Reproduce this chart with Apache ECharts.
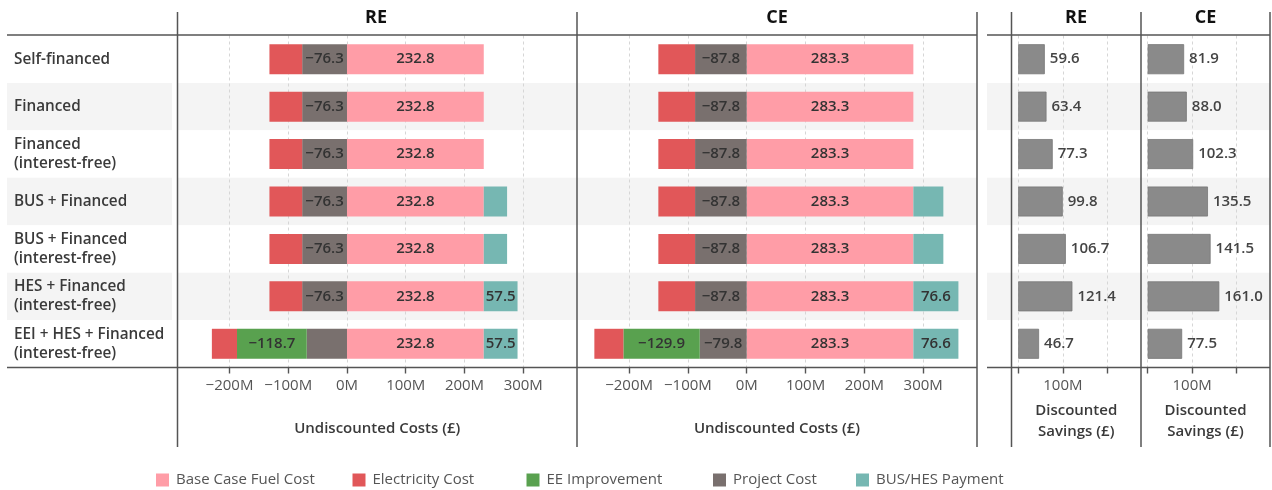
<!DOCTYPE html>
<html><head><meta charset="utf-8">
<script src="https://cdn.jsdelivr.net/npm/echarts@6/dist/echarts.min.js"></script>
<style>html,body{margin:0;padding:0;background:#fff}#c{width:1272px;height:490px}</style>
</head><body><div id="c"></div>
<script>
// ---- data ----
const categories = ['Self-financed', 'Financed', 'Financed\n(interest-free)', 'BUS + Financed',
  'BUS + Financed\n(interest-free)', 'HES + Financed\n(interest-free)', 'EEI + HES + Financed\n(interest-free)'];
const panelNames = ['RE', 'CE'];
const seriesNames = ['Base Case Fuel Cost', 'Electricity Cost', 'EE Improvement', 'Project Cost', 'BUS/HES Payment'];

const reBaseFuel   = [232.8, 232.8, 232.8, 232.8, 232.8, 232.8, 232.8];
const reProject    = [-76.3, -76.3, -76.3, -76.3, -76.3, -76.3, -68.5];
const reEE         = [0, 0, 0, 0, 0, 0, -118.7];
const reElectric   = [-55.7, -55.7, -55.7, -55.7, -55.7, -55.7, -42.8];
const rePayment    = [0, 0, 0, 39.7, 39.7, 57.5, 57.5];

const ceBaseFuel   = [283.3, 283.3, 283.3, 283.3, 283.3, 283.3, 283.3];
const ceProject    = [-87.8, -87.8, -87.8, -87.8, -87.8, -87.8, -79.8];
const ceEE         = [0, 0, 0, 0, 0, 0, -129.9];
const ceElectric   = [-62.4, -62.4, -62.4, -62.4, -62.4, -62.4, -49.3];
const cePayment    = [0, 0, 0, 51.0, 51.0, 76.6, 76.6];

const reSavings = [59.6, 63.4, 77.3, 99.8, 106.7, 121.4, 46.7];
const ceSavings = [81.9, 88.0, 102.3, 135.5, 141.5, 161.0, 77.5];

const costTicks = [-200, -100, 0, 100, 200, 300];
const savingTicks = [0, 100, 200];
const savingLabelTicks = [100];

// ---- style ----
const FONT = 'Open Sans';
const COLORS = {
  'Base Case Fuel Cost': '#FF9DA7',
  'Electricity Cost': '#E15759',
  'EE Improvement': '#59A14F',
  'Project Cost': '#79706E',
  'BUS/HES Payment': '#76B7B2'
};
const TOP = 35.5, BOTTOM_Y = 367.5, H = BOTTOM_Y - TOP;
const LINE = '#555555';
const BAND = ['#ffffff', '#f4f4f4'];
const legendLefts = [156, 352.5, 526.5, 713, 856];

function fmtNum(v) { return (v < 0 ? '\u2212' : '') + Math.abs(v).toFixed(1); }

const grids = [
  { left: 7, top: TOP, width: 165, height: H },        // 0 label column
  { left: 177.5, top: TOP, width: 399.5, height: H },  // 1 RE costs
  { left: 577, top: TOP, width: 400, height: H },      // 2 CE costs
  { left: 987, top: TOP, width: 24.5, height: H },     // 3 savings label col
  { left: 1011.5, top: TOP, width: 129.5, height: H }, // 4 RE savings
  { left: 1141, top: TOP, width: 129, height: H }      // 5 CE savings
];

function catAxis(gi, showLabels) {
  return {
    type: 'category', gridIndex: gi, data: categories, inverse: true,
    axisLine: { show: false }, axisTick: { show: false },
    axisLabel: showLabels ? {
      show: true, inside: true, margin: 7, align: 'left', padding: [4, 0, 0, 0],
      fontFamily: FONT, fontSize: 15.3, fontWeight: 600, color: '#3a3a3a', lineHeight: 19
    } : { show: false },
    splitArea: { show: true, areaStyle: { color: BAND } },
    splitLine: { show: false }
  };
}

function costAxis(gi) {
  return {
    type: 'value', gridIndex: gi, min: -288.5, max: 391.5,
    axisLine: { show: false },
    axisTick: { show: true, customValues: costTicks, length: 6, lineStyle: { color: LINE, width: 1.4 } },
    axisLabel: { customValues: costTicks, margin: 11, fontFamily: FONT, fontSize: 15, color: '#555',
      formatter: v => (v < 0 ? '\u2212' : '') + Math.abs(v) + 'M' },
    splitLine: { show: true, lineStyle: { color: '#d6d6d6', type: [3, 3], width: 1 } },
    name: 'Undiscounted Costs (\u00a3)', nameLocation: 'middle', nameGap: 54,
    nameTextStyle: { fontFamily: FONT, fontSize: 15, fontWeight: 600, color: '#3a3a3a' }
  };
}

function savingAxis(gi) {
  return {
    type: 'value', gridIndex: gi, min: -15, max: 275,
    axisLine: { show: false },
    axisTick: { show: true, customValues: savingTicks, length: 6, lineStyle: { color: LINE, width: 1.4 } },
    axisLabel: { customValues: savingLabelTicks, margin: 11, fontFamily: FONT, fontSize: 15, color: '#555',
      formatter: v => v + 'M' },
    splitLine: { show: true, lineStyle: { color: '#d6d6d6', type: [3, 3], width: 1 } },
    name: 'Discounted\nSavings (\u00a3)', nameLocation: 'middle', nameGap: 33,
    nameTextStyle: { fontFamily: FONT, fontSize: 15, fontWeight: 600, color: '#3a3a3a', lineHeight: 21 }
  };
}

const xAxes = [
  { type: 'value', gridIndex: 0, show: false },
  costAxis(1), costAxis(2),
  { type: 'value', gridIndex: 3, show: false },
  savingAxis(4), savingAxis(5)
];
const yAxes = [catAxis(0, true), catAxis(1, false), catAxis(2, false), catAxis(3, false), catAxis(4, false), catAxis(5, false)];

function costSeries(name, data, gi, stackId) {
  return {
    type: 'bar', name: name, data: data, xAxisIndex: gi, yAxisIndex: gi,
    stack: stackId, barWidth: 30,
    itemStyle: { color: COLORS[name] },
    label: {
      show: true, position: 'inside', fontFamily: FONT, fontSize: 15, fontWeight: 600, color: '#333',
      formatter: p => {
        const v = p.value;
        if (v === 0) return '';
        if (v < 0 && v > -70) return '';
        if (v > 0 && v < 55) return '';
        return fmtNum(v);
      }
    },
    emphasis: { disabled: true }
  };
}

function savingSeries(data, gi) {
  return {
    type: 'bar', name: 'Savings ' + gi, data: data, xAxisIndex: gi, yAxisIndex: gi, barWidth: 30,
    itemStyle: { color: '#8a8a8a', borderColor: '#777', borderWidth: 0.8 },
    label: { show: true, position: 'right', distance: 5, fontFamily: FONT, fontSize: 15, fontWeight: 600, color: '#444',
      formatter: p => p.value.toFixed(1) },
    emphasis: { disabled: true }
  };
}

const series = [
  // order: closest to zero first
  costSeries('Base Case Fuel Cost', reBaseFuel, 1, 're'),
  costSeries('Project Cost', reProject, 1, 're'),
  costSeries('EE Improvement', reEE, 1, 're'),
  costSeries('Electricity Cost', reElectric, 1, 're'),
  costSeries('BUS/HES Payment', rePayment, 1, 're'),
  costSeries('Base Case Fuel Cost', ceBaseFuel, 2, 'ce'),
  costSeries('Project Cost', ceProject, 2, 'ce'),
  costSeries('EE Improvement', ceEE, 2, 'ce'),
  costSeries('Electricity Cost', ceElectric, 2, 'ce'),
  costSeries('BUS/HES Payment', cePayment, 2, 'ce'),
  savingSeries(reSavings, 4),
  savingSeries(ceSavings, 5)
];

// structural frame lines
function ln(x1, y1, x2, y2) {
  return { type: 'line', shape: { x1, y1, x2, y2 }, style: { stroke: LINE, lineWidth: 1.5 }, silent: true, z: 100 };
}
const frameV = [177.5, 577, 977, 1011.5, 1141, 1270];
const graphics = [
  ln(7, 35, 977, 35), ln(987, 35, 1270, 35),
  ln(7, 367.5, 977, 367.5), ln(987, 367.5, 1270, 367.5)
];
frameV.forEach(x => graphics.push(ln(x, 12, x, 447)));

const headerStyle = { fontFamily: FONT, fontSize: 18, fontWeight: 'bold', color: '#111' };
const titles = [
  { text: panelNames[0], left: 376, top: 9 },
  { text: panelNames[1], left: 777, top: 9 },
  { text: panelNames[0], left: 1076, top: 9 },
  { text: panelNames[1], left: 1205.5, top: 9 }
].map(t => ({ text: t.text, left: t.left, top: t.top, textAlign: 'center', padding: 0, textStyle: headerStyle }));

const legends = seriesNames.map((n, i) => ({
  data: [n], left: legendLefts[i], top: 472.5, padding: 0,
  icon: 'rect', itemWidth: 13, itemHeight: 13,
  textStyle: { fontFamily: FONT, fontSize: 15, color: '#555', padding: [0, 0, 0, 2] },
  selectedMode: false
}));

const chart = echarts.init(document.getElementById('c'), null, { renderer: 'canvas' });
chart.setOption({
  animation: false,
  backgroundColor: '#fff',
  title: titles,
  grid: grids,
  xAxis: xAxes,
  yAxis: yAxes,
  series: series,
  graphic: graphics,
  legend: legends
});
</script>
</body></html>
